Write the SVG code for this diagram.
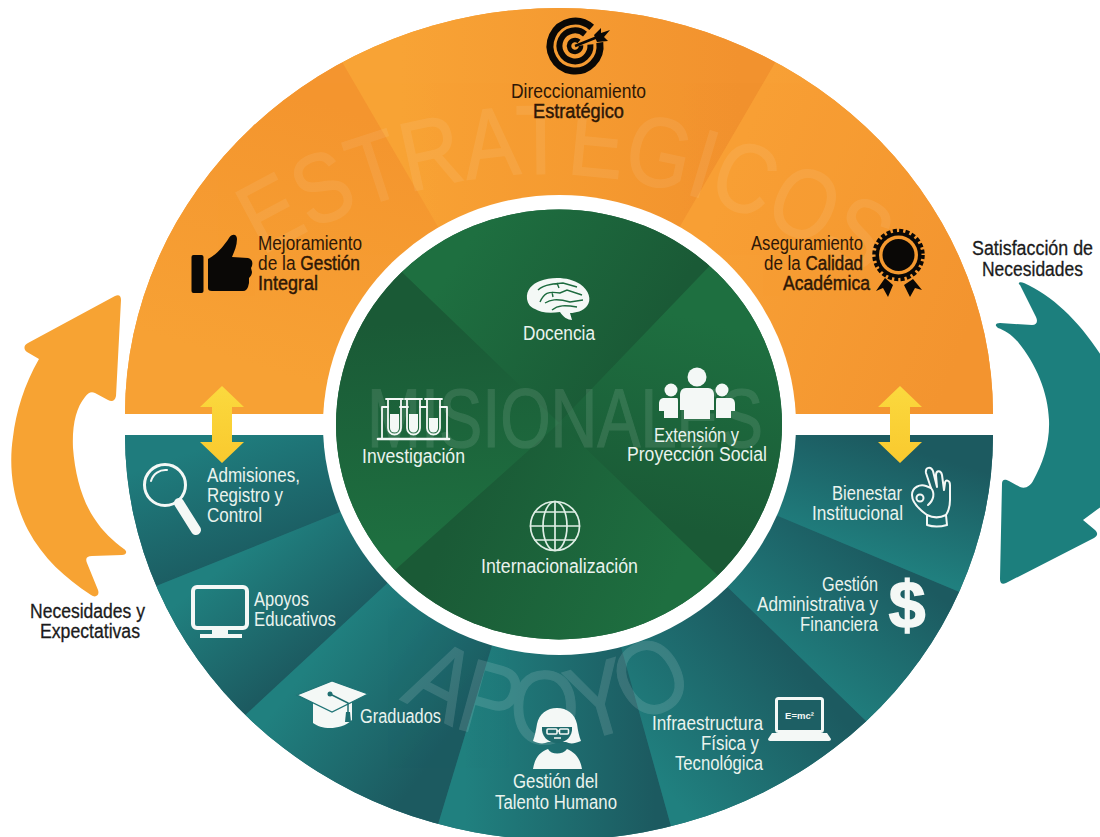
<svg xmlns="http://www.w3.org/2000/svg" width="1100" height="837" viewBox="0 0 1100 837">
<style>
text{font-family:"Liberation Sans Narrow","Liberation Sans",Arial,sans-serif;font-size:20px}
.dk{fill:#2e1706}
.b{stroke:#2e1706;stroke-width:.45px}
.lt{fill:#eaf3ee}
.sd{fill:#1b1b1b;stroke:#1b1b1b;stroke-width:.3px}
.wm{fill:#fff;stroke:#fff;stroke-width:1.200px}
.ic{fill:none;stroke:#f4f8f6;stroke-linecap:round;stroke-linejoin:round}
.wh{fill:#f4f8f6}
.blk{fill:#0a0806}
</style>
<defs>
<clipPath id="topHalf"><path d="M125 414A434 406 0 0 1 993 414Z"/></clipPath>
<clipPath id="botHalf"><path d="M125 435A434 405 0 0 0 993 435Z"/></clipPath>
<linearGradient id="o1" gradientUnits="userSpaceOnUse" x1="380" y1="120" x2="300" y2="380"><stop offset="0" stop-color="#f4952f"/><stop offset="1" stop-color="#f7a134"/></linearGradient>
<linearGradient id="o2" gradientUnits="userSpaceOnUse" x1="400" y1="100" x2="740" y2="100"><stop offset="0" stop-color="#f8a335"/><stop offset="1" stop-color="#f2922e"/></linearGradient>
<linearGradient id="o3" gradientUnits="userSpaceOnUse" x1="720" y1="200" x2="980" y2="300"><stop offset="0" stop-color="#f8a035"/><stop offset="1" stop-color="#f3942f"/></linearGradient>
<linearGradient id="t1" gradientUnits="userSpaceOnUse" x1="225" y1="440" x2="270" y2="570"><stop offset="0" stop-color="#1f7c7d"/><stop offset="1" stop-color="#1b585e"/></linearGradient>
<linearGradient id="t2" gradientUnits="userSpaceOnUse" x1="225" y1="565" x2="305" y2="665"><stop offset="0" stop-color="#20807f"/><stop offset="1" stop-color="#1c5a60"/></linearGradient>
<linearGradient id="t3" gradientUnits="userSpaceOnUse" x1="320" y1="650" x2="445" y2="745"><stop offset="0" stop-color="#20807f"/><stop offset="1" stop-color="#1c5a60"/></linearGradient>
<linearGradient id="t4" gradientUnits="userSpaceOnUse" x1="465" y1="740" x2="655" y2="740"><stop offset="0" stop-color="#20807f"/><stop offset="1" stop-color="#1c5a60"/></linearGradient>
<linearGradient id="t5" gradientUnits="userSpaceOnUse" x1="650" y1="770" x2="790" y2="655"><stop offset="0" stop-color="#20807f"/><stop offset="1" stop-color="#1c5a60"/></linearGradient>
<linearGradient id="t6" gradientUnits="userSpaceOnUse" x1="790" y1="680" x2="885" y2="555"><stop offset="0" stop-color="#20807f"/><stop offset="1" stop-color="#1c5a60"/></linearGradient>
<linearGradient id="t7" gradientUnits="userSpaceOnUse" x1="880" y1="440" x2="845" y2="555"><stop offset="0" stop-color="#1c5a60"/><stop offset="1" stop-color="#20807f"/></linearGradient>
<clipPath id="greenClip"><ellipse cx="559" cy="424.500" rx="223" ry="215"/></clipPath>
<linearGradient id="g1" gradientUnits="userSpaceOnUse" x1="470" y1="240" x2="640" y2="350"><stop offset="0" stop-color="#1e6f40"/><stop offset="1" stop-color="#1a5a36"/></linearGradient>
<linearGradient id="g2" gradientUnits="userSpaceOnUse" x1="700" y1="320" x2="650" y2="520"><stop offset="0" stop-color="#1e6f40"/><stop offset="1" stop-color="#1a5a36"/></linearGradient>
<linearGradient id="g3" gradientUnits="userSpaceOnUse" x1="460" y1="500" x2="670" y2="590"><stop offset="0" stop-color="#1a5a36"/><stop offset="1" stop-color="#1e6f40"/></linearGradient>
<linearGradient id="g4" gradientUnits="userSpaceOnUse" x1="420" y1="320" x2="440" y2="540"><stop offset="0" stop-color="#1a5a36"/><stop offset="1" stop-color="#1e6f40"/></linearGradient>
<linearGradient id="yl" x1="0" y1="0" x2="0" y2="1"><stop offset="0" stop-color="#fbd93e"/><stop offset="1" stop-color="#f9c92e"/></linearGradient>
<path id="wmTop" d="M262 256Q555 85 855 270"/>
<path id="wmBot" d="M400 698Q548 792 695 692"/>
<path id="dbl" d="M0 0L22 21H10V56H22L0 77L-22 56H-10V21H-22Z"/>
</defs>
<rect width="1100" height="837" fill="#fff"/>

<g id="anillo-estrategicos" clip-path="url(#topHalf)">
<rect x="60" y="-10" width="1000" height="450" fill="#f69b31"/>
<polygon points="559,435 344,65 260,-80 60,-80 60,435" fill="url(#o1)"/>
<polygon points="559,435 344,65 260,-80 860,-80 775,63" fill="url(#o2)"/>
<polygon points="559,435 775,63 860,-80 1060,-80 1060,435" fill="url(#o3)"/>
<text class="wm" style="font-size:98px" opacity=".07"><textPath href="#wmTop" textLength="640" lengthAdjust="spacingAndGlyphs">ESTRATEGICOS</textPath></text>
</g>

<g id="anillo-apoyo" clip-path="url(#botHalf)">
<rect x="60" y="420" width="1000" height="450" fill="#1e6c6f"/>
<polygon points="559,424 60,424 42,632" fill="url(#t1)"/>
<polygon points="559,424 42,632 156,798" fill="url(#t2)"/>
<polygon points="559,424 156,798 402,944" fill="url(#t3)"/>
<polygon points="559,424 402,944 705,948" fill="url(#t4)"/>
<polygon points="559,424 705,948 955,807" fill="url(#t5)"/>
<polygon points="559,424 955,807 1074,640" fill="url(#t6)"/>
<polygon points="559,424 1074,640 1060,424" fill="url(#t7)"/>
<text class="wm" style="font-size:104px" opacity=".12"><textPath href="#wmBot" textLength="318" lengthAdjust="spacingAndGlyphs">APOYO</textPath></text>
</g>

<ellipse id="aro-blanco" cx="559.500" cy="425" rx="236.500" ry="230" fill="#fff"/>

<g id="circulo-misionales">
<ellipse cx="559" cy="424.500" rx="223" ry="215" fill="#1c6439"/>
<g clip-path="url(#greenClip)">
<polygon points="559,423 309,183 797,175" fill="url(#g1)"/>
<polygon points="559,423 797,175 812,666" fill="url(#g2)"/>
<polygon points="559,423 812,666 300,655" fill="url(#g3)"/>
<polygon points="559,423 300,655 309,183" fill="url(#g4)"/>
</g>
<text x="367" y="447" class="wm" style="font-size:84px" opacity=".1" textLength="396" lengthAdjust="spacingAndGlyphs">MISIONALES</text>
</g>

<g id="conectores">
<path id="flecha-necesidades" fill="#f7a333" d="M115 296C119 294 121 296 121 300L116 396C115 401 112 402 108 400L95 393C91 391 88 393 85 397C76 408 72 425 73 448C75 475 82 500 94 518C103 532 113 541 124 549C128 552 126 555 122 555L92 556C87 556 85 558 87 563L98 590C100 596 95 598 91 595C65 578 43 558 28 530C14 503 8 470 13 437C16 412 24 385 39 359L27 352C23 349 24 345 28 343Z"/>
<path id="flecha-satisfaccion" fill="#1c7f7d" d="M1020 285C1017 283 1020 281 1024 283C1056 297 1086 328 1110 370V500L1083 520L1095 530C1098 533 1098 536 1094 538L1006 583C1002 585 1000 583 1000 579L1002 484C1002 479 1005 479 1009 481L1020 487C1026 489 1030 486 1033 481C1043 463 1050 443 1049 420C1048 392 1036 364 1018 342C1011 334 1004 330 998 328C994 325 996 323 1000 323L1032 325C1037 325 1038 321 1036 317Z"/>
<use href="#dbl" x="222" y="386" fill="url(#yl)"/>
<use href="#dbl" x="900" y="386" fill="url(#yl)"/>
</g>

<g id="direccionamiento">
<g fill="none" stroke="#0a0806" stroke-linecap="butt">
<path d="M591.700 27.400A25 25 0 1 0 599.800 42.500" stroke-width="7"/>
<path d="M585 34.100A15.500 15.500 0 1 0 590.400 44.600" stroke-width="6"/>
<path d="M579 41.500A6 6 0 1 0 581 45.500" stroke-width="4.500"/>
</g>
<path d="M575 46L600 36" stroke="#0a0806" stroke-width="2.500" fill="none"/>
<polygon class="blk" points="594,35 601,28 601,33 610,30 604,37 608,41 597,42"/>
<text x="511" y="98" class="dk" textLength="135" lengthAdjust="spacingAndGlyphs">Direccionamiento</text>
<text x="533" y="118" class="dk b" textLength="91" lengthAdjust="spacingAndGlyphs">Estratégico</text>
</g>

<g id="mejoramiento">
<rect x="191.500" y="255" width="12" height="38" rx="2" class="blk"/>
<path class="blk" d="M208 259C216 255 224 246 229 238C232 233 237 234 237 239C237 246 234 252 232 257L248 258C252 259 253 262 252 266L251 268L252 272C252 275 250 277 249 278L249 283L248 287C247 289 246 291 243 291H212C209 291 208 290 208 288Z"/>
<text x="258" y="250" class="dk" textLength="104" lengthAdjust="spacingAndGlyphs">Mejoramiento</text>
<text x="258" y="270" class="dk" textLength="102" lengthAdjust="spacingAndGlyphs">de la <tspan class="b">Gestión</tspan></text>
<text x="258" y="290" class="dk b" textLength="60" lengthAdjust="spacingAndGlyphs">Integral</text>
</g>

<g id="aseguramiento">
<polygon class="blk" points="885,278 893,285 888,297 883,288 876,291"/>
<polygon class="blk" points="904,285 913,279 922,290 915,288 910,297"/>
<circle cx="898.500" cy="255" r="23" class="blk"/>
<circle cx="898.500" cy="255" r="24" fill="none" stroke="#0a0806" stroke-width="4.500" stroke-dasharray="4 2.280"/>
<circle cx="898.500" cy="255" r="19.500" fill="#f5992f"/>
<circle cx="898.500" cy="255" r="16" class="blk"/>
<text x="751" y="250" class="dk" textLength="112" lengthAdjust="spacingAndGlyphs">Aseguramiento</text>
<text x="764" y="270" class="dk" textLength="99" lengthAdjust="spacingAndGlyphs">de la <tspan class="b">Calidad</tspan></text>
<text x="783" y="290" class="dk b" textLength="87" lengthAdjust="spacingAndGlyphs">Académica</text>
</g>

<g id="docencia">
<path class="wh" d="M527 299C526 290 532 284 540 281C552 276 570 277 580 284C589 290 592 300 587 306C583 311 576 313 570 313L572 320C568 320 563 317 560 312C548 314 540 312 535 309C530 307 528 304 527 299Z"/>
<g fill="none" stroke="#1c6a3e" stroke-width="1.400">
<path d="M538 290C543 285 548 285 553 284L563 283L577 287M557 283L559 288"/>
<path d="M540 302C544 293 548 291 560 293L567 290L582 295M552 292L553 297"/>
<path d="M545 303C550 300 556 298 570 302L583 300"/>
<path d="M552 310C558 305 565 305 577 307"/>
</g>
<text x="523" y="340" class="lt" textLength="72" lengthAdjust="spacingAndGlyphs">Docencia</text>
</g>

<g id="extension">
<circle cx="697" cy="377" r="9.500" class="wh"/>
<circle cx="671" cy="390" r="6.500" class="wh"/>
<circle cx="722" cy="390" r="6.500" class="wh"/>
<path class="wh" d="M686 388H708C712 388 714 391 714 395V410H710V419H684V410H680V395C680 391 682 388 686 388Z"/>
<path class="wh" d="M664 398H677C678 398 678 400 678 402V418H664V411H659V404C659 400 661 398 664 398Z"/>
<path class="wh" d="M717 398H730C733 398 735 400 735 404V411H731V418H716V402C716 400 716 398 717 398Z"/>
<text x="654" y="442" class="lt" textLength="85" lengthAdjust="spacingAndGlyphs">Extensión y</text>
<text x="627" y="461" class="lt" textLength="140" lengthAdjust="spacingAndGlyphs">Proyección Social</text>
</g>

<g id="investigacion">
<g class="ic" stroke-width="1.800">
<path d="M382 438V407M447 438V407M382 407H388M400 407H408M420 407H427M440 407H447"/>
<path d="M388 399V428A6.500 6.500 0 0 0 401 428V399M386 399H403"/>
<path d="M407 399V428A6.500 6.500 0 0 0 420 428V399M405 399H422"/>
<path d="M427 399V428A6.500 6.500 0 0 0 440 428V399M425 399H442"/>
<path d="M378 439H449" stroke-width="2.600"/>
</g>
<path class="wh" d="M390 414H399V428A4.500 4.500 0 0 1 390 428Z"/>
<path class="wh" d="M409 414H418V428A4.500 4.500 0 0 1 409 428Z"/>
<path class="wh" d="M429 418H438V428A4.500 4.500 0 0 1 429 428Z"/>
<text x="362" y="463" class="lt" textLength="103" lengthAdjust="spacingAndGlyphs">Investigación</text>
</g>

<g id="internacionalizacion">
<g class="ic" stroke-width="1.700" style="stroke:#dfeee5">
<circle cx="555" cy="526" r="24.500"/>
<ellipse cx="555" cy="526" rx="12" ry="24.500"/>
<path d="M555 501.500V550.500M530.500 526H579.500M535 512H575M535 540H575"/>
</g>
<text x="481" y="573" class="lt" textLength="157" lengthAdjust="spacingAndGlyphs">Internacionalización</text>
</g>

<g id="admisiones">
<circle cx="165" cy="485" r="20.500" class="ic" stroke-width="3"/>
<path d="M151 481A15 15 0 0 1 167 470" class="ic" stroke-width="2"/>
<path d="M179 503L196 530" class="ic" stroke-width="10"/>
<text x="207" y="482" class="lt" textLength="93" lengthAdjust="spacingAndGlyphs">Admisiones,</text>
<text x="207" y="502" class="lt" textLength="76" lengthAdjust="spacingAndGlyphs">Registro y</text>
<text x="207" y="522" class="lt" textLength="55" lengthAdjust="spacingAndGlyphs">Control</text>
</g>

<g id="apoyos-educativos">
<rect x="193" y="587" width="54" height="41" rx="4" class="ic" stroke-width="4"/>
<rect x="212" y="628" width="16" height="6" class="wh"/>
<rect x="200" y="634" width="42" height="4" class="wh"/>
<text x="254" y="606" class="lt" textLength="55" lengthAdjust="spacingAndGlyphs">Apoyos</text>
<text x="254" y="626" class="lt" textLength="82" lengthAdjust="spacingAndGlyphs">Educativos</text>
</g>

<g id="graduados">
<path class="wh" d="M313 702L352 702V720C346 726 337 728 330 728C323 728 317 726 313 723Z"/>
<polygon points="297,695 332,681 368,694 332,712" fill="#f4f8f6" stroke="#1f7476" stroke-width="1.300"/>
<path d="M330 694L348 703V712" fill="none" stroke="#1f6e70" stroke-width="1.500"/>
<circle cx="330" cy="694" r="2.500" fill="#1f6e70"/>
<path d="M346 712H350L351 722H345Z" fill="#1f6e70"/>
<text x="360" y="723" class="lt" textLength="81" lengthAdjust="spacingAndGlyphs">Graduados</text>
</g>

<g id="talento-humano">
<path class="wh" d="M533 741C535 735 536 730 537 724C539 714 547 708 557 708C567 708 575 714 577 724C578 731 579 736 581 741C574 744 570 744 566 742H548C544 744 539 744 533 741Z"/>
<path d="M542 727H572C573 736 566 743 557 743C548 743 541 736 542 727Z" fill="#1e6a6c"/>
<g fill="none" stroke="#f4f8f6" stroke-width="1.600"><rect x="547" y="729" width="10" height="5" rx="1"/><rect x="559.500" y="729" width="9" height="5" rx="1"/><path d="M557 731H560M554 738H561"/></g>
<path class="wh" d="M533 769C535 757 540 752 548 749C551 755 563 755 567 749C574 752 580 757 582 769Z"/>
<text x="513" y="788" class="lt" textLength="85" lengthAdjust="spacingAndGlyphs">Gestión del</text>
<text x="495" y="809" class="lt" textLength="122" lengthAdjust="spacingAndGlyphs">Talento Humano</text>
</g>

<g id="infraestructura">
<rect x="776.500" y="698.500" width="46" height="33" rx="2" fill="#1d5f64" stroke="#f4f8f6" stroke-width="3"/>
<path class="wh" d="M772 733H827L831 739C831 740 830 741 829 741H770C769 741 768 740 768 739Z"/>
<text x="799.500" y="719" text-anchor="middle" style="font-family:'Liberation Sans',Arial,sans-serif;font-size:9.500px;font-weight:700" fill="#f4f8f6">E=mc²</text>
<text x="652" y="730" class="lt" textLength="111" lengthAdjust="spacingAndGlyphs">Infraestructura</text>
<text x="701" y="750" class="lt" textLength="58" lengthAdjust="spacingAndGlyphs">Física y</text>
<text x="675" y="770" class="lt" textLength="88" lengthAdjust="spacingAndGlyphs">Tecnológica</text>
</g>

<g id="gestion-administrativa">
<text x="907" y="628" text-anchor="middle" class="wh" style="font-family:'Liberation Sans',Arial,sans-serif;font-size:66px;font-weight:700;stroke:#f4f8f6;stroke-width:1.600px">$</text>
<text x="822" y="591" class="lt" textLength="56" lengthAdjust="spacingAndGlyphs">Gestión</text>
<text x="757" y="611" class="lt" textLength="121" lengthAdjust="spacingAndGlyphs">Administrativa y</text>
<text x="800" y="631" class="lt" textLength="78" lengthAdjust="spacingAndGlyphs">Financiera</text>
</g>

<g id="bienestar">
<g class="ic" stroke-width="2">
<path d="M927 515C920 510 912 503 912 495C912 487 920 484 926 486L931 488L926 473C925 467 931 466 933 471L937 487L936 475C936 470 941 470 942 475L944 490L945 483C945 479 950 480 950 485V500C950 507 948 512 946 515"/>
<path d="M931 488C935 493 934 500 928 505"/>
<circle cx="920" cy="498" r="3.500"/>
<path d="M927 515C933 518 940 518 946 515L947 525C940 527 933 527 927 525Z"/>
</g>
<text x="832" y="500" class="lt" textLength="70" lengthAdjust="spacingAndGlyphs">Bienestar</text>
<text x="812" y="520" class="lt" textLength="91" lengthAdjust="spacingAndGlyphs">Institucional</text>
</g>

<g id="etiqueta-satisfaccion">
<text x="972" y="255" class="sd" textLength="121" lengthAdjust="spacingAndGlyphs">Satisfacción de</text>
<text x="982" y="276" class="sd" textLength="101" lengthAdjust="spacingAndGlyphs">Necesidades</text>
</g>
<g id="etiqueta-necesidades">
<text x="30" y="618" class="sd" textLength="115" lengthAdjust="spacingAndGlyphs">Necesidades y</text>
<text x="40" y="638" class="sd" textLength="100" lengthAdjust="spacingAndGlyphs">Expectativas</text>
</g>
</svg>
